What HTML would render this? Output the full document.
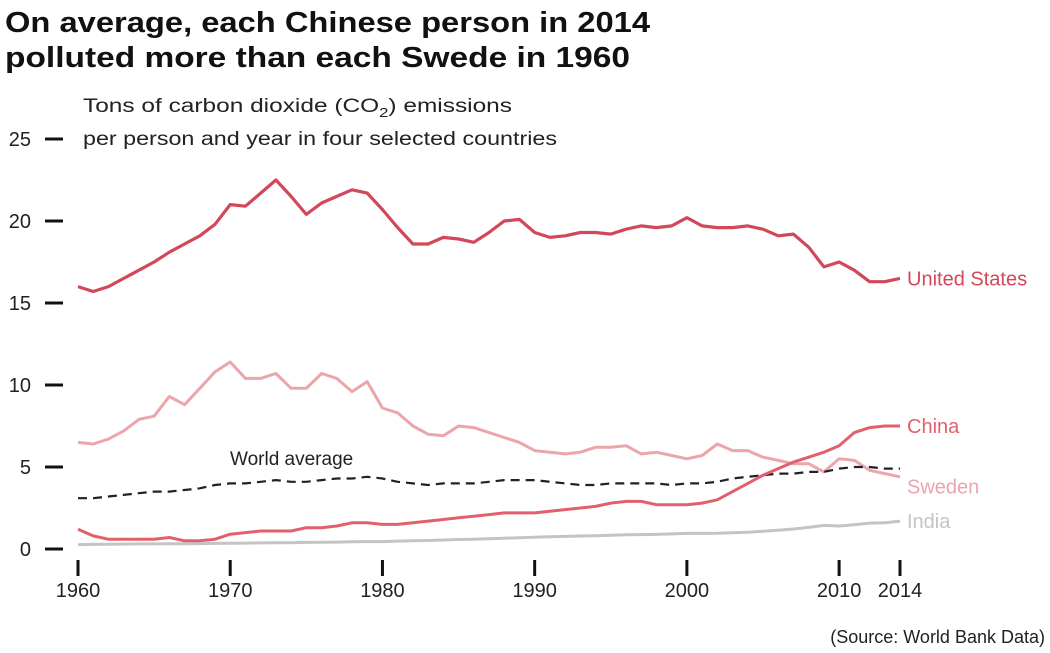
<!DOCTYPE html>
<html><head><meta charset="utf-8"><style>
html,body{margin:0;padding:0;background:#fff;}
svg{display:block;font-family:"Liberation Sans",sans-serif;}
</style></head><body>
<svg id="chart" width="1050" height="653" viewBox="0 0 1050 653" xmlns="http://www.w3.org/2000/svg">
<text x="5" y="32" font-size="29" font-weight="bold" fill="#111" textLength="645" lengthAdjust="spacingAndGlyphs">On average, each Chinese person in 2014</text>
<text x="5" y="67" font-size="29" font-weight="bold" fill="#111" textLength="625" lengthAdjust="spacingAndGlyphs">polluted more than each Swede in 1960</text>
<text x="83" y="112" font-size="19" fill="#222" textLength="429" lengthAdjust="spacingAndGlyphs">Tons of carbon dioxide (CO<tspan font-size="13" dy="5">2</tspan><tspan dy="-5">) emissions</tspan></text>
<text x="83" y="145" font-size="19" fill="#222" textLength="474" lengthAdjust="spacingAndGlyphs">per person and year in four selected countries</text>
<g id="axes"></g>
<g id="series"></g>
<text x="230" y="465" font-size="19" fill="#222">World average</text>
<text x="1045" y="643" font-size="18" fill="#222" text-anchor="end">(Source: World Bank Data)</text>
</svg>
<script>
const years = [];
for (let y = 1960; y <= 2014; y++) years.push(y);
const usValues = [16.0,15.7,16.0,16.5,17.0,17.5,18.1,18.6,19.1,19.8,21.0,20.9,21.7,22.5,21.5,20.4,21.1,21.5,21.9,21.7,20.7,19.6,18.6,18.6,19.0,18.9,18.7,19.3,20.0,20.1,19.3,19.0,19.1,19.3,19.3,19.2,19.5,19.7,19.6,19.7,20.2,19.7,19.6,19.6,19.7,19.5,19.1,19.2,18.4,17.2,17.5,17.0,16.3,16.3,16.5];
const swedenValues = [6.5,6.4,6.7,7.2,7.9,8.1,9.3,8.8,9.8,10.8,11.4,10.4,10.4,10.7,9.8,9.8,10.7,10.4,9.6,10.2,8.6,8.3,7.5,7.0,6.9,7.5,7.4,7.1,6.8,6.5,6.0,5.9,5.8,5.9,6.2,6.2,6.3,5.8,5.9,5.7,5.5,5.7,6.4,6.0,6.0,5.6,5.4,5.2,5.2,4.7,5.5,5.4,4.8,4.6,4.4];
const chinaValues = [1.2,0.8,0.6,0.6,0.6,0.6,0.7,0.5,0.5,0.6,0.9,1.0,1.1,1.1,1.1,1.3,1.3,1.4,1.6,1.6,1.5,1.5,1.6,1.7,1.8,1.9,2.0,2.1,2.2,2.2,2.2,2.3,2.4,2.5,2.6,2.8,2.9,2.9,2.7,2.7,2.7,2.8,3.0,3.5,4.0,4.5,4.9,5.3,5.6,5.9,6.3,7.1,7.4,7.5,7.5];
const worldValues = [3.1,3.1,3.2,3.3,3.4,3.5,3.5,3.6,3.7,3.9,4.0,4.0,4.1,4.2,4.1,4.1,4.2,4.3,4.3,4.4,4.3,4.1,4.0,3.9,4.0,4.0,4.0,4.1,4.2,4.2,4.2,4.1,4.0,3.9,3.9,4.0,4.0,4.0,4.0,3.9,4.0,4.0,4.1,4.3,4.4,4.5,4.6,4.6,4.7,4.7,4.9,5.0,5.0,4.9,4.9];
const indiaValues = [0.27,0.28,0.29,0.30,0.31,0.31,0.32,0.32,0.33,0.34,0.35,0.36,0.37,0.38,0.38,0.40,0.41,0.42,0.44,0.45,0.45,0.48,0.50,0.52,0.55,0.58,0.60,0.63,0.66,0.69,0.72,0.75,0.77,0.79,0.81,0.84,0.87,0.88,0.89,0.92,0.95,0.95,0.96,0.99,1.02,1.08,1.14,1.22,1.32,1.44,1.40,1.48,1.58,1.60,1.70];
const yTicks = [0,5,10,15,20,25];
const xTickLabels = [1960,1970,1980,1990,2000,2010,2014];

const NS = "http://www.w3.org/2000/svg";
const xScale = y => 78 + (y - 1960) * (900 - 78) / 54;
const yScale = v => 549 - v * 16.4;

const axes = document.getElementById('axes');
yTicks.forEach(t => {
  const l = document.createElementNS(NS, 'line');
  
  
  l.setAttribute('x1', 45); l.setAttribute('x2', 63);
  l.setAttribute('y1', yScale(t)); l.setAttribute('y2', yScale(t));
  l.setAttribute('stroke', '#111'); l.setAttribute('stroke-width', 3);
  axes.appendChild(l);
  const tx = document.createElementNS(NS, 'text');
  
  
  tx.setAttribute('x', 31); tx.setAttribute('y', yScale(t) + 7);
  tx.setAttribute('text-anchor', 'end'); tx.setAttribute('font-size', 20); tx.setAttribute('fill', '#222');
  tx.textContent = t;
  axes.appendChild(tx);
});
xTickLabels.forEach(yr => {
  const l = document.createElementNS(NS, 'line');
  
  
  l.setAttribute('x1', xScale(yr)); l.setAttribute('x2', xScale(yr));
  l.setAttribute('y1', 560); l.setAttribute('y2', 576);
  l.setAttribute('stroke', '#111'); l.setAttribute('stroke-width', 3);
  axes.appendChild(l);
  const tx = document.createElementNS(NS, 'text');
  
  
  tx.setAttribute('x', xScale(yr)); tx.setAttribute('y', 597);
  tx.setAttribute('text-anchor', 'middle'); tx.setAttribute('font-size', 20); tx.setAttribute('fill', '#222');
  tx.textContent = yr;
  axes.appendChild(tx);
});

const seriesG = document.getElementById('series');
function drawLine(vals, color, width, dash, name) {
  const p = document.createElementNS(NS, 'path');
  
  
  p.setAttribute('d', vals.map((v, i) => (i ? 'L' : 'M') + xScale(years[i]).toFixed(1) + ',' + yScale(v).toFixed(1)).join(''));
  p.setAttribute('fill', 'none'); p.setAttribute('stroke', color); p.setAttribute('stroke-width', width);
  p.setAttribute('stroke-linejoin', 'round');
  if (dash) p.setAttribute('stroke-dasharray', dash);
  seriesG.appendChild(p);
}
function drawLabel(text, v, color, name) {
  const tx = document.createElementNS(NS, 'text');
  
  
  tx.setAttribute('x', 907); tx.setAttribute('y', yScale(v) + 7);
  tx.setAttribute('font-size', 20); tx.setAttribute('fill', color);
  tx.textContent = text;
  seriesG.appendChild(tx);
}
drawLine(indiaValues, '#c4c4c4', 3, null, 'india-line');
drawLine(swedenValues, '#eba5ab', 3, null, 'sweden-line');
drawLine(worldValues, '#222', 2.2, '9,6', 'world-average-line');
drawLine(chinaValues, '#e2606d', 3, null, 'china-line');
drawLine(usValues, '#d3475a', 3.2, null, 'us-line');
drawLabel('United States', usValues[usValues.length-1], '#d3475a', 'us-label');
drawLabel('China', chinaValues[chinaValues.length-1], '#e2606d', 'china-label');
drawLabel('Sweden', 3.8, '#eba5ab', 'sweden-label');
drawLabel('India', 1.7, '#c4c4c4', 'india-label');
</script>
</body></html>
